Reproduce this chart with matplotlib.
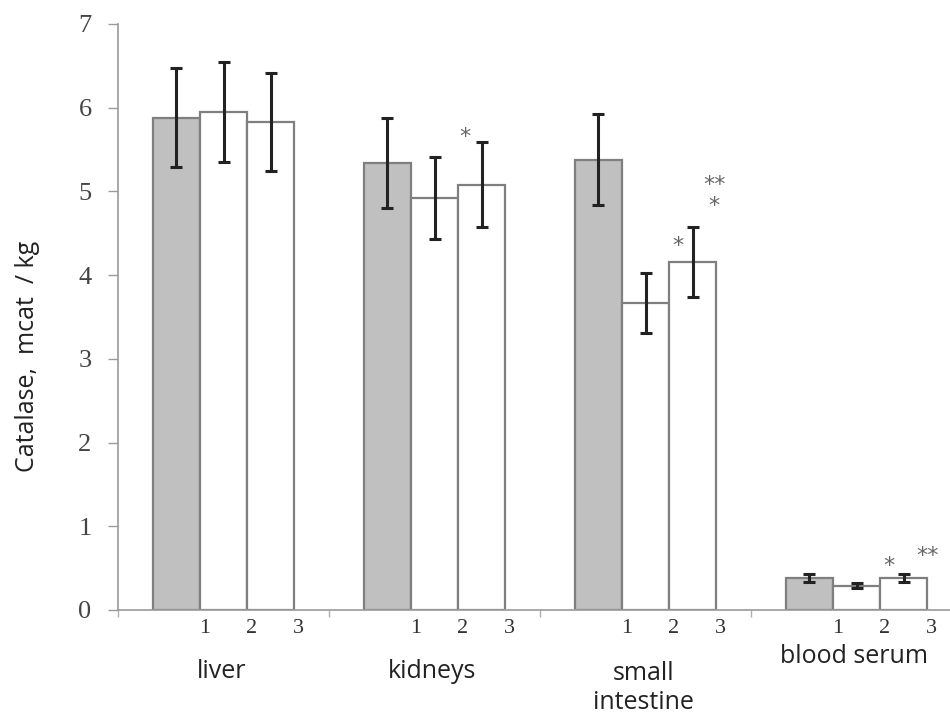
import numpy as np
import matplotlib
matplotlib.use("Agg")
import matplotlib.pyplot as plt

# data
organs = ["liver", "kidneys", "small\nintestine", "blood serum"]
groups = ["1", "2", "3"]
control = [5.88, 5.34, 5.38, 0.38]
control_err = [0.59, 0.54, 0.54, 0.05]
group1 = [5.95, 4.92, 3.67, 0.29]
group1_err = [0.60, 0.49, 0.36, 0.03]
group2 = [5.83, 5.08, 4.16, 0.38]
group2_err = [0.59, 0.51, 0.42, 0.05]
yticks = [0, 1, 2, 3, 4, 5, 6, 7]

SERIF = "Liberation Serif"
SANS = "Open Sans"
EDGE = "#7f7f7f"

fig = plt.figure(figsize=(9.5, 7.15), dpi=100)
ax = fig.add_axes([118 / 950, 105 / 715, 832 / 950, 586 / 715])

w = 0.223
x = np.arange(len(organs)) + 0.5
series = [(control, control_err, "#c0c0c0"),
          (group1, group1_err, "white"),
          (group2, group2_err, "white")]
for k, (vals, errs, fc) in enumerate(series):
    xs = x + (k - 1) * w
    ax.bar(xs, vals, width=w, color=fc, edgecolor=EDGE, linewidth=1.6, zorder=2)
    ax.errorbar(xs, vals, yerr=errs, fmt="none", ecolor="#222222", elinewidth=2.2,
                capsize=4, capthick=2.2, zorder=3)
    # numbers under the bars sit at each bar's right edge
    for xi in xs:
        ax.text(xi + w / 2 + 0.02, -0.22, groups[k], ha="center", va="center",
                fontsize=16, family=SERIF, color="#333333")

# significance marks
star = dict(fontsize=16, color="#666666", ha="center", va="center", family="DejaVu Sans")
ax.text(x[1] + w - 0.08, 5.65, "*", **star)
ax.text(x[2] + w - 0.07, 4.35, "*", **star)
ax.text(x[2] + 2 * w - 0.12, 5.08, "**", **star)
ax.text(x[2] + 2 * w - 0.12, 4.83, "*", **star)
ax.text(x[3] + w - 0.07, 0.52, "*", **star)
ax.text(x[3] + 2 * w - 0.11, 0.64, "**", **star)

# organ labels
lab_y = [-0.74, -0.74, -0.93, -0.56]
for xi, name, yy in zip(x, organs, lab_y):
    ax.text(xi - 0.01, yy, name, ha="center", va="center", fontsize=18,
            family=SANS, color="#222222", linespacing=1.2)

ax.set_xlim(0, 832 / 211)
ax.set_ylim(0, 7)
ax.set_yticks(yticks)
ax.set_yticklabels([str(t) for t in yticks], family=SERIF, fontsize=19, color="#444444")
ax.set_xticks(np.arange(len(organs)))
ax.set_xticklabels([])
ax.tick_params(axis="y", direction="out", length=7, width=1, color="#9a9a9a", pad=12)
ax.tick_params(axis="x", direction="out", length=5, width=1, color="#b0b0b0")
for sp in ["top", "right"]:
    ax.spines[sp].set_visible(False)
for sp in ["left", "bottom"]:
    ax.spines[sp].set_color("#9a9a9a")
    ax.spines[sp].set_linewidth(1.2)

fig.text(28 / 950, 1 - 356 / 715, "Catalase,  mcat  / kg", rotation=90, ha="center",
         va="center", fontsize=18, family=SANS, color="#222222")

fig.savefig("out.png", dpi=100)
